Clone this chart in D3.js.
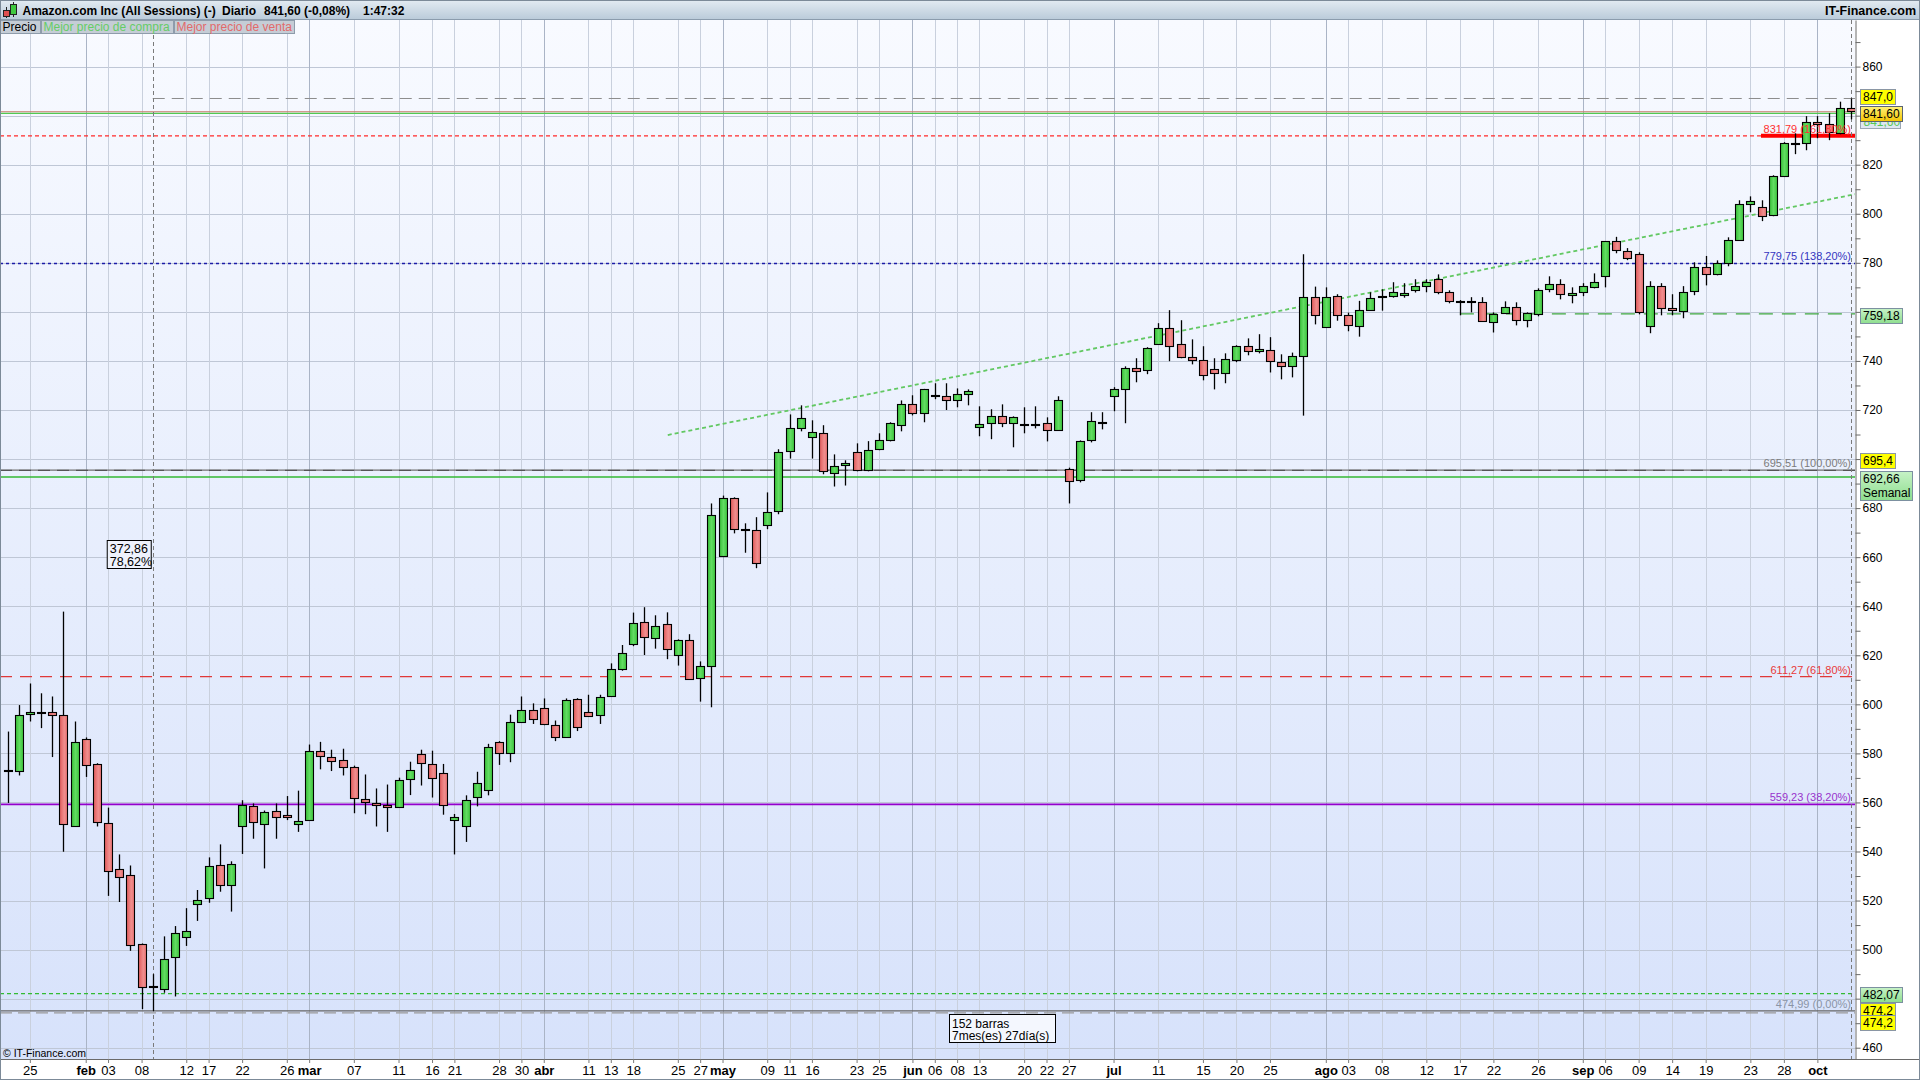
<!DOCTYPE html>
<html><head><meta charset="utf-8">
<script src="https://cdn.jsdelivr.net/npm/d3@7"></script>
<style>
html,body{margin:0;padding:0;background:#fff;overflow:hidden;}
svg{display:block;font-family:"Liberation Sans",Arial,sans-serif;}
</style></head><body>
<svg id="c" width="1920" height="1080"></svg>
<script>
// ---------- DATA ----------
const opens  = [572.6,572.9,596.1,596.8,596.9,595.8,550.4,586.0,575.5,551.8,532.7,530.6,502.2,485.0,483.8,496.9,505.0,518.7,520.8,534.3,
526.1,550.2,558.4,551.4,556.7,554.7,551.4,553.0,581.1,578.7,577.4,574.6,561.6,559.9,559.1,558.4,569.7,579.8,575.7,572.1,
552.6,550.2,562.4,565.2,584.7,580.2,592.8,597.7,598.6,591.7,586.8,602.2,596.9,595.8,603.5,614.4,624.5,633.4,627.3,632.6,
620.0,626.1,610.6,615.9,660.5,684.0,671.6,671.0,673.0,678.7,703.2,712.5,708.9,710.5,694.6,697.5,702.8,695.4,704.0,707.6,
713.8,722.3,718.7,726.2,725.6,724.0,726.4,713.0,714.6,717.4,714.6,714.3,714.3,714.6,711.7,696.1,691.3,707.6,715.2,725.6,
728.4,737.0,736.2,746.8,753.3,746.8,741.5,740.3,736.6,735.0,740.3,746.0,743.9,744.3,739.7,738.2,742.0,766.2,753.9,766.5,
758.6,754.1,760.7,766.3,766.2,767.0,768.8,770.5,773.3,768.0,764.3,764.3,763.9,755.8,759.4,761.9,756.6,759.0,769.2,771.3,
766.8,768.0,770.0,774.5,788.8,784.7,783.5,754.1,770.5,761.5,760.3,768.4,778.2,775.3,779.8,789.2,803.9,802.7,799.4,815.3,
828.9,828.8,837.3,836.5,832.8,843.0];
const highs  = [588.9,599.7,608.5,604.5,603.2,637.8,593.0,586.5,576.0,557.9,538.8,534.3,502.5,490.0,505.4,509.6,516.9,524.3,537.6,542.9,
536.0,560.9,559.6,556.7,559.6,562.6,564.8,583.6,584.7,581.5,581.9,575.0,571.4,565.7,567.3,570.1,576.6,581.5,581.1,575.7,
555.3,562.9,572.5,583.9,585.0,595.8,603.2,600.4,602.4,593.4,602.4,602.5,603.9,603.9,616.7,624.2,637.4,639.6,636.3,637.5,
626.5,628.6,617.5,681.9,685.1,684.4,673.8,676.3,686.4,704.0,718.2,721.9,715.8,713.8,701.9,699.5,706.4,707.3,710.5,715.0,
723.9,726.0,728.6,730.9,730.9,728.8,728.4,721.5,720.3,722.3,717.4,721.1,721.5,717.0,725.6,696.5,707.6,719.1,719.1,729.3,
737.8,741.1,745.6,755.4,760.7,756.6,748.8,746.0,741.1,743.1,746.4,749.2,750.9,749.7,742.7,743.4,783.5,770.3,770.0,767.2,
759.7,764.5,768.0,769.2,772.1,771.7,773.3,773.3,775.3,768.8,764.8,766.0,766.0,759.8,764.3,763.9,759.8,769.6,774.5,773.3,
770.0,771.7,775.7,788.9,790.6,786.0,784.3,772.5,771.7,767.2,770.5,780.2,782.8,781.0,790.4,805.5,807.1,805.5,815.7,829.2,
832.8,839.8,839.8,841.0,845.7,847.0];
const lows   = [559.8,571.0,593.0,590.3,578.5,539.9,550.0,570.4,550.2,521.9,519.4,499.5,475.7,474.99,482.4,480.9,501.5,511.7,519.1,523.6,
515.5,539.0,545.2,533.1,545.2,552.8,548.0,553.0,573.5,572.8,571.0,555.6,555.2,550.2,548.0,558.4,563.0,566.9,562.0,555.0,
538.8,543.9,558.4,562.9,575.3,576.4,592.4,592.0,591.5,585.0,586.5,589.1,595.0,592.0,603.1,613.7,623.7,620.1,622.7,618.4,
615.8,610.0,601.1,598.8,660.0,669.7,661.8,655.5,671.4,677.5,700.2,711.3,700.2,693.8,688.8,689.2,695.0,695.0,703.6,707.2,
711.3,717.8,715.0,724.4,720.0,721.1,721.9,709.3,708.1,713.0,704.8,710.5,712.5,707.2,711.5,681.9,690.5,706.8,712.1,719.5,
714.6,731.3,734.6,746.5,739.9,741.1,738.6,732.1,728.4,730.9,739.5,742.3,743.1,735.3,732.5,733.3,717.7,754.9,753.5,756.4,
752.1,749.9,760.5,760.5,765.8,765.8,767.9,768.0,767.2,763.5,758.6,759.8,756.0,751.6,759.2,754.5,753.7,758.2,768.0,765.1,
763.5,766.4,769.6,770.0,783.9,781.1,759.0,751.3,758.6,758.6,757.4,766.8,770.8,774.9,778.6,789.0,800.6,797.0,799.0,815.0,
824.3,825.9,830.8,830.0,832.4,838.5];
const closes = [573.2,595.8,596.8,596.8,595.6,551.4,584.7,575.3,551.8,532.3,529.4,502.2,484.7,484.5,496.0,506.7,507.5,520.4,533.9,526.1,
534.7,558.8,551.8,556.3,554.2,553.9,552.5,581.1,579.1,577.0,574.6,562.0,560.3,559.1,558.4,569.3,573.4,576.2,570.1,559.2,
553.9,560.8,568.0,582.8,580.2,592.8,597.7,594.1,592.0,586.8,601.8,590.9,595.2,603.1,614.4,621.0,633.2,627.3,632.1,622.4,
626.1,610.2,615.5,677.3,684.0,671.4,671.2,657.5,678.3,702.8,712.5,716.6,710.9,695.0,697.3,698.3,695.4,703.6,707.6,714.6,
722.3,718.7,728.4,725.9,724.0,726.4,727.6,714.2,717.4,714.6,717.0,714.1,714.1,711.7,724.0,691.3,707.2,715.4,715.0,728.4,
737.0,735.8,745.2,753.3,746.0,741.5,740.3,734.2,735.0,740.7,746.0,743.9,744.8,739.8,738.2,742.2,766.2,759.0,766.2,758.6,
754.5,760.7,765.6,766.1,768.0,767.8,770.5,772.2,768.0,764.3,764.1,764.1,756.2,759.0,761.9,756.6,759.4,768.8,771.3,767.2,
767.6,770.5,772.1,788.8,785.1,781.9,759.8,770.5,761.5,760.7,768.0,778.2,775.3,779.8,789.2,803.9,805.1,799.0,815.3,828.8,
828.7,837.3,836.3,833.2,843.0,841.6];

const tickIndex  = [2,7,9,12,16,18,21,25,27,31,35,38,40,44,46,48,52,54,56,60,62,64,68,70,72,76,78,81,83,85,87,91,93,95,99,103,107,110,113,118,120,123,127,130,133,137,141,143,146,149,152,156,159,162];
const tickLabels = ["25","feb","03","08","12","17","22","26","mar","07","11","16","21","28","30","abr","11","13","18","25","27","may","09","11","16","23","25","jun","06","08","13","20","22","27","jul","11","15","20","25","ago","03","08","12","17","22","26","sep","06","09","14","19","23","28","oct"];
const monthNames = ["feb","mar","abr","may","jun","jul","ago","sep","oct"];
// price labels visible on the right axis (others are covered by value boxes)
const priceLabelTicks = [460,500,520,540,560,580,600,620,640,660,680,720,740,780,800,820,860];

const fibPrices = [831.79, 779.75, 695.51, 611.27, 559.23, 474.99];
const fibTexts  = ["831,79 (161,80%)","779,75 (138,20%)","695,51 (100,00%)","611,27 (61,80%)","559,23 (38,20%)","474,99 (0,00%)"];
const trendIdx   = [59.1, 165.4];
const trendPrice = [709.8, 808.0];
const lastPrice = 841.60;
const measureIdx = [13, 165];
const measurePrice = [474.2, 847.0];
const measureTexts = ["372,86","78,62%"];
const barsTexts = ["152 barras","7mes(es) 27día(s)"];
const weeklyLevel = 692.66;
const supportLevel = 759.18, supportStartIdx = 130;
const level482 = 482.07;
const level695 = 695.4;
const axisBoxPrices = [847.0, 841.60, 759.18, 695.4, 692.66, 482.07, 474.2, 474.2];
const axisBoxTexts  = [["847,0"],["841,60"],["759,18"],["695,4"],["692,66","Semanal"],["482,07"],["474,2"],["474,2"]];

// ---------- LAYOUT ----------
const svg = d3.select("#c");
const W = 1920, H = 1080, pL = 0, pR = 1855, pT = 20, pB = 1059;
const x = d3.scaleLinear().domain([0, 165]).range([7.5, 1850.9]);
const y = d3.scaleLinear().domain([455.4, 879.0]).range([pB, pT]);

const defs = svg.append("defs");
function lg(id, stops, vertical){
  const g = defs.append("linearGradient").attr("id", id)
    .attr("x1",0).attr("y1",0).attr("x2", vertical?0:1).attr("y2", vertical?1:0);
  stops.forEach(s => g.append("stop").attr("offset", s[0]).attr("stop-color", s[1]));
}
lg("bg", [[0,"#f8faff"],[1,"#d7e2fb"]], true);
lg("hdr", [[0,"#e3ebf2"],[1,"#b9cad9"]], true);
lg("gGreen", [[0,"#38c038"],[0.5,"#62dc62"],[1,"#3cc43c"]], false);
lg("gRed", [[0,"#e05a5a"],[0.6,"#f08e8e"],[1,"#e87070"]], false);
lg("gold", [[0,"#fff27a"],[1,"#f4c400"]], true);
lg("lgreen", [[0,"#c6f2c6"],[1,"#8fde8f"]], true);
defs.append("clipPath").attr("id","clip").append("rect")
  .attr("x",pL).attr("y",pT).attr("width",pR-pL).attr("height",pB-pT);

svg.append("rect").attr("width",W).attr("height",H).attr("fill","#fff");
svg.append("rect").attr("x",pL).attr("y",pT).attr("width",pR-pL).attr("height",pB-pT).attr("fill","url(#bg)");

const plot = svg.append("g").attr("clip-path","url(#clip)");

// grid
plot.append("g").selectAll("line").data(d3.range(460, 880, 20)).join("line")
  .attr("x1",pL).attr("x2",pR).attr("y1",d=>Math.round(y(d))+0.5).attr("y2",d=>Math.round(y(d))+0.5)
  .attr("stroke","#bfc7d6").attr("stroke-width",1);
plot.append("g").selectAll("line").data(tickIndex.map((t,i)=>({t,lab:tickLabels[i]}))).join("line")
  .attr("x1",d=>Math.round(x(d.t))+0.5).attr("x2",d=>Math.round(x(d.t))+0.5).attr("y1",pT).attr("y2",pB)
  .attr("stroke",d=>monthNames.includes(d.lab)?"#aab4c6":"#c9d0dd").attr("stroke-width",1);

// horizontal levels
function hline(p, color, dash, w, x0){
  plot.append("line").attr("x1", x0==null?pL:x0).attr("x2",pR)
    .attr("y1",y(p)).attr("y2",y(p)).attr("stroke",color).attr("stroke-width",w||1)
    .attr("stroke-dasharray",dash||null);
}
hline(measurePrice[1], "#8c8c8c", "12,7", 1, x(measureIdx[0]));
hline(lastPrice, "#c87a6e", null, 1.2);
plot.append("line").attr("x1",pL).attr("x2",pR).attr("y1",y(lastPrice)+1.6).attr("y2",y(lastPrice)+1.6)
  .attr("stroke","#52c852").attr("stroke-width",1.2);
hline(fibPrices[0], "#ff2a2a", "4,3", 1.2);
hline(fibPrices[1], "#1c1ca8", "3,3", 1.5);
hline(supportLevel, "#3fa83f", "14,9", 1.2, x(supportStartIdx));
hline(fibPrices[2], "#707070", null, 1.2);
hline(level695, "#4a4a4a", "12,7", 1);
hline(weeklyLevel, "#33b833", null, 1.4);
hline(fibPrices[3], "#e03838", "12,8", 1.3);
hline(fibPrices[4], "#9400cc", null, 1.6);
hline(level482, "#33bb33", "4,3", 1.1);
hline(fibPrices[5], "#666666", null, 1.3);
hline(measurePrice[0], "#9a9a9a", "12,6", 1.2);

// red thick segment at 161.8%
plot.append("line").attr("x1",1761).attr("x2",pR).attr("y1",y(fibPrices[0])).attr("y2",y(fibPrices[0]))
  .attr("stroke","#ff0000").attr("stroke-width",4);

// trend line
plot.append("line").attr("x1",x(trendIdx[0])).attr("y1",y(trendPrice[0]))
  .attr("x2",x(trendIdx[1])).attr("y2",y(trendPrice[1]))
  .attr("stroke","#62c862").attr("stroke-width",1.8).attr("stroke-dasharray","4,3");

// vertical dashed lines (measurement)
plot.append("line").attr("x1",Math.round(x(measureIdx[0]))+0.5).attr("x2",Math.round(x(measureIdx[0]))+0.5)
  .attr("y1",35).attr("y2",pB).attr("stroke","#7a7a7a").attr("stroke-dasharray","4,3");
plot.append("line").attr("x1",Math.round(x(measureIdx[1]))+0.5).attr("x2",Math.round(x(measureIdx[1]))+0.5)
  .attr("y1",pT).attr("y2",pB).attr("stroke","#7a7a7a").attr("stroke-dasharray","4,3");

// candles
const data = opens.map((o,i)=>({i, o, h:highs[i], l:lows[i], c:closes[i]}));
const cg = plot.append("g");
cg.selectAll("line").data(data).join("line")
  .attr("x1",d=>Math.round(x(d.i))+0.5).attr("x2",d=>Math.round(x(d.i))+0.5)
  .attr("y1",d=>y(d.h)).attr("y2",d=>y(d.l)).attr("stroke","#000").attr("stroke-width",1.3);
cg.selectAll("rect").data(data).join("rect")
  .attr("x",d=>Math.round(x(d.i))-3.5).attr("width",8)
  .attr("y",d=>Math.round(y(Math.max(d.o,d.c)))+0.5)
  .attr("height",d=>Math.max(1,Math.round(Math.abs(y(d.o)-y(d.c)))))
  .attr("fill",d=>d.c>=d.o?"url(#gGreen)":"url(#gRed)")
  .attr("stroke","#000").attr("stroke-width",1.1);

// fib texts
plot.append("g").selectAll("text").data(fibPrices.map((p,i)=>({p,t:fibTexts[i],i}))).join("text")
  .attr("x",1851).attr("y",d=>y(d.p)-3).attr("text-anchor","end").attr("font-size",11)
  .attr("fill",(d)=>["#ff3030","#3434c0","#7c7c7c","#e83a3a","#9933cc","#8a94a6"][d.i])
  .text(d=>d.t);

// measurement box
const mx = x(measureIdx[0]);
const mb = plot.append("g");
mb.append("rect").attr("x",mx-45.5).attr("y",540.5).attr("width",44).attr("height",28)
  .attr("fill","#eef2fc").attr("stroke","#000");
mb.selectAll("text").data(measureTexts).join("text").attr("x",mx-43).attr("y",(d,i)=>553+i*12.8)
  .attr("font-size",12.5).attr("fill","#000").text(d=>d);
const bx = (x(measureIdx[0])+x(measureIdx[1]))/2;
const bb = plot.append("g");
bb.append("rect").attr("x",Math.round(bx-53)+0.5).attr("y",1014.5).attr("width",106).attr("height",28)
  .attr("fill","#f4f7fe").attr("stroke","#000");
bb.selectAll("text").data(barsTexts).join("text").attr("x",Math.round(bx-50)).attr("y",(d,i)=>1027.5+i*12)
  .attr("font-size",12).attr("fill","#000").text(d=>d);

// copyright
svg.append("text").attr("x",3).attr("y",1057).attr("font-size",10.5).attr("fill","#000").text("© IT-Finance.com");

// right axis
svg.append("rect").attr("x",pR).attr("y",pT).attr("width",W-pR).attr("height",pB-pT).attr("fill","#fff");
const ra = svg.append("g").attr("transform",`translate(${pR+0.5},0)`)
  .call(d3.axisRight(y).tickValues(d3.range(460, 880, 10)).tickSize(5).tickSizeOuter(0)
    .tickFormat(d=>priceLabelTicks.includes(d)?String(d):""));
ra.select(".domain").attr("stroke","#6a6a6a");
ra.selectAll(".tick line").attr("stroke","#6a6a6a");
ra.selectAll(".tick text").attr("font-size",12).attr("x",7).attr("fill","#000").attr("font-family",null);

// bottom axis
svg.append("rect").attr("x",0).attr("y",pB).attr("width",W).attr("height",H-pB).attr("fill","#fff");
const ba = svg.append("g").attr("transform",`translate(0,${pB})`)
  .call(d3.axisBottom(x).tickValues(tickIndex).tickSize(4).tickSizeOuter(0)
    .tickFormat((d,i)=>tickLabels[i]));
ba.select(".domain").attr("stroke","#6a6a6a").attr("d",`M0,0.5H${W}`);
ba.selectAll(".tick line").attr("stroke","#7a7a7a");
ba.selectAll(".tick text").attr("font-size",13).attr("y",7).attr("fill","#000").attr("font-family",null)
  .attr("font-weight",(d,i)=>monthNames.includes(tickLabels[i])?"bold":"normal");

// axis value boxes
const boxStyles = [
  {fill:"#ffff00", stroke:"#8a96a4", dy:-2},
  {fill:"url(#gold)", stroke:"#5a6470", dy:2},
  {fill:"url(#lgreen)", stroke:"#7c90a0", dy:1.5},
  {fill:"#ffff00", stroke:"#8a96a4", dy:-9.5},
  {fill:"url(#lgreen)", stroke:"#7c90a0", dy:1.5},
  {fill:"url(#lgreen)", stroke:"#7c90a0", dy:0.5},
  {fill:"#ffff00", stroke:"#8a96a4", dy:-2},
  {fill:"#ffff00", stroke:"#8a96a4", dy:9.5},
];
const boxes = svg.append("g");
// bid box partly hidden under 841,60
const hb = boxes.append("g").attr("transform",`translate(1860.5,${Math.round(y(lastPrice))+2.5})`);
hb.append("rect").attr("width",40).attr("height",14).attr("fill","#dfe6f2").attr("stroke","#9aa6b4");
hb.append("text").attr("x",3).attr("y",11.5).attr("font-size",12).attr("fill","#58c858").text("841,60");
[0,3,4,5,6,7,2,1].forEach(k=>{
  const lines = axisBoxTexts[k], st = boxStyles[k];
  const h = 14*lines.length + 1;
  const cy = y(axisBoxPrices[k]) + st.dy;
  const g = boxes.append("g").attr("transform",`translate(1860.5,${Math.round(cy - 7.5)+0.5})`);
  const r = g.append("rect").attr("height",h).attr("fill",st.fill).attr("stroke",st.stroke);
  let maxw = 0;
  lines.forEach((t,j)=>{
    const tx = g.append("text").attr("x",2.5).attr("y",11.5+j*14).attr("font-size",12).attr("fill","#000").text(t);
    maxw = Math.max(maxw, tx.node().getComputedTextLength());
  });
  r.attr("width",Math.round(maxw)+5);
});

// header
svg.append("rect").attr("x",0).attr("y",0).attr("width",W).attr("height",pT).attr("fill","url(#hdr)");
svg.append("line").attr("x1",0).attr("x2",W).attr("y1",pT-0.5).attr("y2",pT-0.5).attr("stroke","#8b9cad");
const ic = svg.append("g");
ic.append("line").attr("x1",6.5).attr("x2",6.5).attr("y1",7).attr("y2",18).attr("stroke","#222");
ic.append("rect").attr("x",3.5).attr("y",10.5).attr("width",6).attr("height",6).attr("fill","#e05050").attr("stroke","#222");
ic.append("line").attr("x1",13.5).attr("x2",13.5).attr("y1",2).attr("y2",17).attr("stroke","#222");
ic.append("rect").attr("x",10.5).attr("y",4.5).attr("width",6).attr("height",10).attr("fill","#40c840").attr("stroke","#222");
const hdrParts = [[22.5,"Amazon.com Inc (All Sessions) (-)"],[222,"Diario"],[264,"841,60 (-0,08%)"],[363,"1:47:32"]];
svg.append("g").selectAll("text").data(hdrParts).join("text")
  .attr("x",d=>d[0]).attr("y",14.5).attr("font-size",12).attr("font-weight","bold").attr("fill","#000").text(d=>d[1]);
svg.append("text").attr("x",1916).attr("y",14.5).attr("text-anchor","end").attr("font-size",12.5).attr("font-weight","bold")
  .attr("fill","#000").text("IT-Finance.com");

// legend row
const legendItems = [[0,41,"Precio","#000"],[41,133,"Mejor precio de compra","#66cc66"],[174,121,"Mejor precio de venta","#e26a6a"]];
const lgG = svg.append("g");
legendItems.forEach(d=>{
  lgG.append("rect").attr("x",d[0]+0.5).attr("y",20.5).attr("width",d[1]-1).attr("height",13)
    .attr("fill","#c5cdd6").attr("stroke","#8e9cab");
  lgG.append("text").attr("x",d[0]+2.5).attr("y",31).attr("font-size",12).attr("fill",d[3]).text(d[2]);
});

// outer frame
svg.append("rect").attr("x",0.5).attr("y",0.5).attr("width",W-1).attr("height",H-1).attr("fill","none").attr("stroke","#7c8a98");
</script>
</body></html>
